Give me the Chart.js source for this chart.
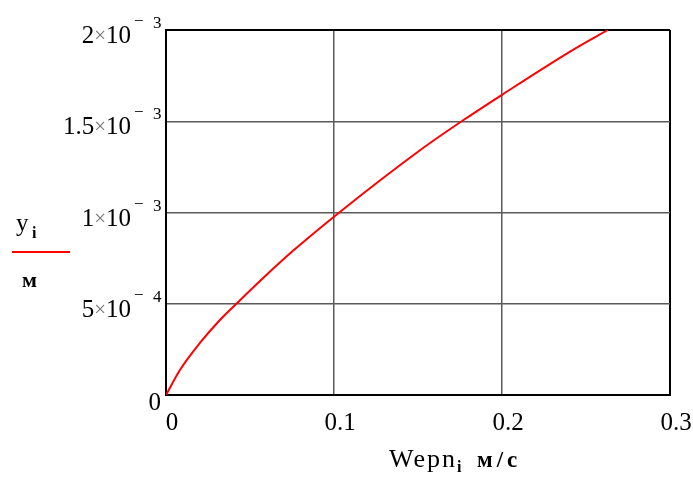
<!DOCTYPE html>
<html>
<head>
<meta charset="utf-8">
<script src="https://cdn.jsdelivr.net/npm/chart.js@4"></script>
<style>
  html, body { margin: 0; padding: 0; background: #fff; }
  #plot { display: block; }
</style>
</head>
<body>
<canvas id="plot" width="693" height="484"></canvas>
<script>
// ------------------------------------------------------------
// DATOS
// ------------------------------------------------------------
const wepn = [0, 0.0083, 0.0202, 0.0321, 0.043, 0.0577, 0.0756, 0.1024, 0.151, 0.176, 0.2, 0.242, 0.263];
const yVals = [0, 0.000137, 0.000285, 0.000411, 0.00051, 0.00064, 0.00079, 0.000995, 0.00134, 0.0015, 0.001645, 0.00189, 0.002];

const xTicks = [0, 0.1, 0.2, 0.3];
const xTickLabels = ["0", "0.1", "0.2", "0.3"];
const yTicks = [0, 0.0005, 0.001, 0.0015, 0.002];
const yTickMant = ["0", "5", "1", "1.5", "2"];
const yTickExp = ["", "4", "3", "3", "3"];

const SERIF = "'Liberation Serif', 'Times New Roman', serif";

// ------------------------------------------------------------
// ETIQUETAS ESTILO MATHCAD
// ------------------------------------------------------------
const mathcadLabels = {
  id: "mathcadLabels",
  afterDraw(chart) {
    const ctx = chart.ctx;
    const xs = chart.scales.x;
    const ys = chart.scales.y;
    ctx.save();
    ctx.fillStyle = "#000";
    ctx.textBaseline = "alphabetic";

    // ticks eje Y
    yTicks.forEach((v, i) => {
      const py = ys.getPixelForValue(v);
      if (!yTickExp[i]) {
        ctx.font = "25px " + SERIF;
        ctx.textAlign = "right";
        ctx.fillText(yTickMant[i], 161, py + 15);
        return;
      }
      ctx.font = "17px " + SERIF;
      ctx.textAlign = "left";
      ctx.fillText("\u2212", 134, py - 4);
      ctx.fillText(yTickExp[i], 153, py - 2);
      ctx.font = "25px " + SERIF;
      ctx.textAlign = "right";
      ctx.fillText("10", 131, py + 13);
      const w10 = ctx.measureText("10").width;
      ctx.fillStyle = "#777";
      ctx.font = "21px " + SERIF;
      ctx.fillText("\u00d7", 131 - w10, py + 12);
      const wx = ctx.measureText("\u00d7").width;
      ctx.fillStyle = "#000";
      ctx.font = "25px " + SERIF;
      ctx.fillText(yTickMant[i], 131 - w10 - wx, py + 13);
    });

    // ticks eje X
    ctx.font = "25px " + SERIF;
    ctx.textAlign = "center";
    xTicks.forEach((v, i) => {
      const px = xs.getPixelForValue(v);
      ctx.fillText(xTickLabels[i], px + 6, 430);
    });

    // título eje Y
    ctx.textAlign = "left";
    ctx.font = "25px " + SERIF;
    ctx.fillText("y", 16, 231);
    ctx.font = "bold 16px " + SERIF;
    ctx.fillText("i", 32, 238);
    ctx.strokeStyle = "#ff0000";
    ctx.lineWidth = 2;
    ctx.beginPath();
    ctx.moveTo(12, 252);
    ctx.lineTo(70, 252);
    ctx.stroke();
    ctx.font = "bold 22px " + SERIF;
    ctx.fillText("\u043c", 22, 287);

    // título eje X
    ctx.font = "26px " + SERIF;
    ctx.letterSpacing = "2px";
    ctx.fillText("Wepn", 389, 467);
    ctx.letterSpacing = "0px";
    ctx.font = "bold 16px " + SERIF;
    ctx.fillText("i", 457, 472);
    ctx.font = "bold 23px " + SERIF;
    ctx.letterSpacing = "4px";
    ctx.fillText("\u043c/\u0441", 477, 467);
    ctx.restore();
  },
};

// ------------------------------------------------------------
// GRÁFICO
// ------------------------------------------------------------
const gridColor = (c) => {
  const n = c.scale.ticks.length;
  return c.index === 0 || c.index === n - 1 ? "#000" : "#5a5a5a";
};
const gridWidth = (c) => {
  const n = c.scale.ticks.length;
  return c.index === 0 || c.index === n - 1 ? 2 : 1.5;
};

new Chart(document.getElementById("plot"), {
  type: "scatter",
  data: {
    datasets: [
      {
        data: wepn.map((x, i) => ({ x, y: yVals[i] })),
        showLine: true,
        borderColor: "#ff0000",
        borderWidth: 2,
        pointRadius: 0,
        cubicInterpolationMode: "monotone",
        fill: false,
      },
    ],
  },
  options: {
    responsive: false,
    animation: false,
    layout: { padding: { left: 166, right: 23, top: 30, bottom: 89 } },
    plugins: {
      legend: { display: false },
      tooltip: { enabled: false },
    },
    scales: {
      x: {
        type: "linear",
        min: 0,
        max: 0.3,
        ticks: { stepSize: 0.1, display: false },
        grid: { color: gridColor, lineWidth: gridWidth, drawTicks: false },
        border: { display: true, color: "#000", width: 2 },
        afterFit: (s) => { s.height = 0; },
      },
      y: {
        type: "linear",
        min: 0,
        max: 0.002,
        ticks: { stepSize: 0.0005, display: false },
        grid: { color: gridColor, lineWidth: gridWidth, drawTicks: false },
        border: { display: true, color: "#000", width: 2 },
        afterFit: (s) => { s.width = 0; },
      },
    },
  },
  plugins: [mathcadLabels],
});
</script>
</body>
</html>
